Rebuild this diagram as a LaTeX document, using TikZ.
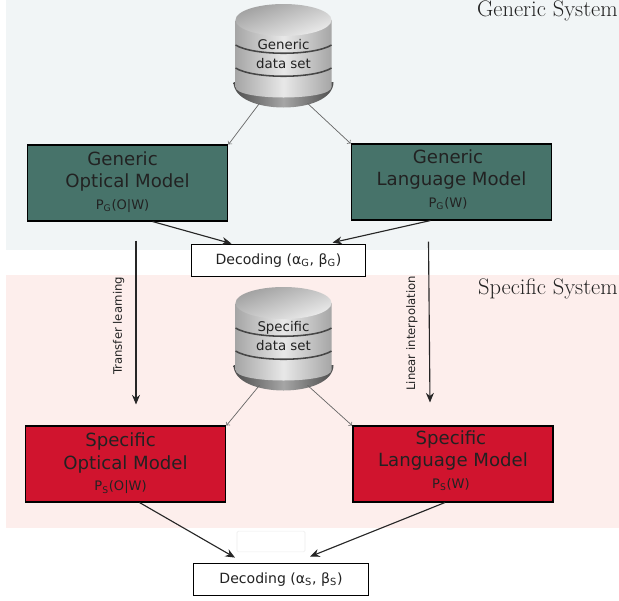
\documentclass[tikz,border=0pt]{standalone}
\usepackage{fontspec}
\setsansfont{DejaVu Sans}
\usetikzlibrary{arrows.meta}
\definecolor{bandG}{HTML}{F1F5F6}
\definecolor{bandS}{HTML}{FDEEEC}
\definecolor{modelG}{HTML}{47736A}
\definecolor{modelS}{HTML}{D0142E}
\definecolor{inkT}{HTML}{222222}
\newcommand{\modelbody}[5]{#3\hspace*{#1}\\#4\hspace*{#1}\\[-1pt]{\fontsize{9.3}{10}\selectfont #5\rule[-#2]{0pt}{0pt}}\hspace*{#1}}
\tikzset{
	model/.style={draw=black, line width=1.3pt, minimum width=5cm, minimum height=1.88cm, inner sep=0pt, align=center, text=inkT, font=\sffamily\fontsize{12.9}{16.2}\selectfont},
	decoding/.style={draw=black, line width=0.7pt, fill=white, minimum width=4.35cm, minimum height=0.82cm, inner sep=0pt, text=inkT, font=\sffamily\fontsize{10}{12}\selectfont},
	dbnode/.style={minimum width=2.45cm, minimum height=2.45cm, inner sep=0pt, align=center, text=inkT, font=\sffamily\fontsize{9.5}{14}\selectfont},
	flow/.style={thick, black!85, -{Stealth[length=2.4mm, width=2mm]}},
	feed/.style={gray!80!black, line width=0.5pt, -{to[scale=0.5]}},
	bandtitle/.style={text=inkT, inner sep=0pt, font=\rmfamily\fontsize{16}{18}\selectfont, anchor=east},
	sidelabel/.style={rotate=90, anchor=south, inner sep=8pt, text=inkT, font=\sffamily\fontsize{8.3}{10}\selectfont},
	dbstack/.pic={
		% base shadow
		\shade[left color=gray!60!black, right color=gray!60!black, middle color=gray!70] (-50,28) .. controls (-50,62) and (50,62) .. (50,28) -- cycle;
		% body
		\shade[left color=gray!70, right color=gray!70, middle color=gray!18] (-48,-34) -- (-48,33) .. controls (-48,47) and (48,47) .. (48,33) -- (48,-34) -- cycle;
		% grooves
		\draw[gray!55!black, line width=1.1pt] (-48,-9) .. controls (-30,2) and (30,2) .. (48,-9);
		\draw[gray!55!black, line width=1.1pt] (-48,14) .. controls (-30,25) and (30,25) .. (48,14);
		% lid
		\shade[top color=gray!75, bottom color=gray!15, shading angle=20] (0,-34) ellipse (48 and 16);
	}
}
\begin{document}
\begin{tikzpicture}[x=0.025cm, y=-0.025cm]
	\useasboundingbox (0,0) rectangle (619,600);
	
	\fill[bandG] (6,0) rectangle (619,250);
	\fill[bandS] (6,275) rectangle (619,528);
	
	\node[bandtitle] (titleG) at (618,11) {Generic System};
	\node[bandtitle] (titleS) at (618,289) {Specific System};
	
	\pic at (283.5,54) {dbstack};
	\node[dbnode] (dbG) at (283.5,54) {Generic\\data set};
	\pic at (283.5,337) {dbstack};
	\node[dbnode] (dbS) at (283.5,336) {Specific\\data set};
	
	\node[model, fill=modelG] (optG) at (127.5,183) {\modelbody{7pt}{3.8pt}{Generic}{Optical Model}{P\textsubscript{G}(O|W)}};
	\node[model, fill=modelG] (langG) at (451.5,182) {\modelbody{5pt}{5.2pt}{Generic}{Language Model}{P\textsubscript{G}(W)}};
	\node[decoding] (decG) at (278.5,260.5) {Decoding (α\textsubscript{G}, β\textsubscript{G})};
	
	\node[model, fill=modelS] (optS) at (125.5,464) {\modelbody{7pt}{3.1pt}{Specific}{Optical Model}{P\textsubscript{S}(O|W)}};
	\node[model, fill=modelS] (langS) at (453,464) {\modelbody{3pt}{6.6pt}{Specific}{Language Model}{P\textsubscript{S}(W)}};
	\node[decoding] (decS) at (281,579.5) {Decoding (α\textsubscript{S}, β\textsubscript{S})};
	
	\node[draw=gray!15, rounded corners=1pt, fill=white, minimum width=1.7cm, minimum height=0.52cm] (gap) at (271,541.5) {};
	
	\path []
	([xshift=-0.6cm]dbG.south) edge[feed] (optG.north east)
	([xshift=0.6cm]dbG.south) edge[feed] (langG.north west)
	([xshift=-0.6cm]dbS.south) edge[feed] (optS.north east)
	([xshift=0.6cm]dbS.south) edge[feed] (langS.north west)
	([shift={(25,0)}]optG.south) edge[flow] ([shift={(-47,0)}]decG.north)
	([shift={(-21,0)}]langG.south) edge[flow] ([shift={(54,-1)}]decG.north)
	([shift={(8.5,19)}]optG.south) edge[flow] node[sidelabel, pos=0.52] {Transfer learning} ([shift={(10.5,-21)}]optS.north)
	([shift={(-23,21)}]langG.south) edge[flow] node[sidelabel, pos=0.57] {Linear interpolation} ([shift={(-23,-23)}]langS.north)
	([shift={(14,0)}]optS.south) edge[flow] ([shift={(-46,-5)}]decS.north)
	([shift={(-8,0)}]langS.south) edge[flow] ([shift={(29,-6)}]decS.north);
\end{tikzpicture}
\end{document}
